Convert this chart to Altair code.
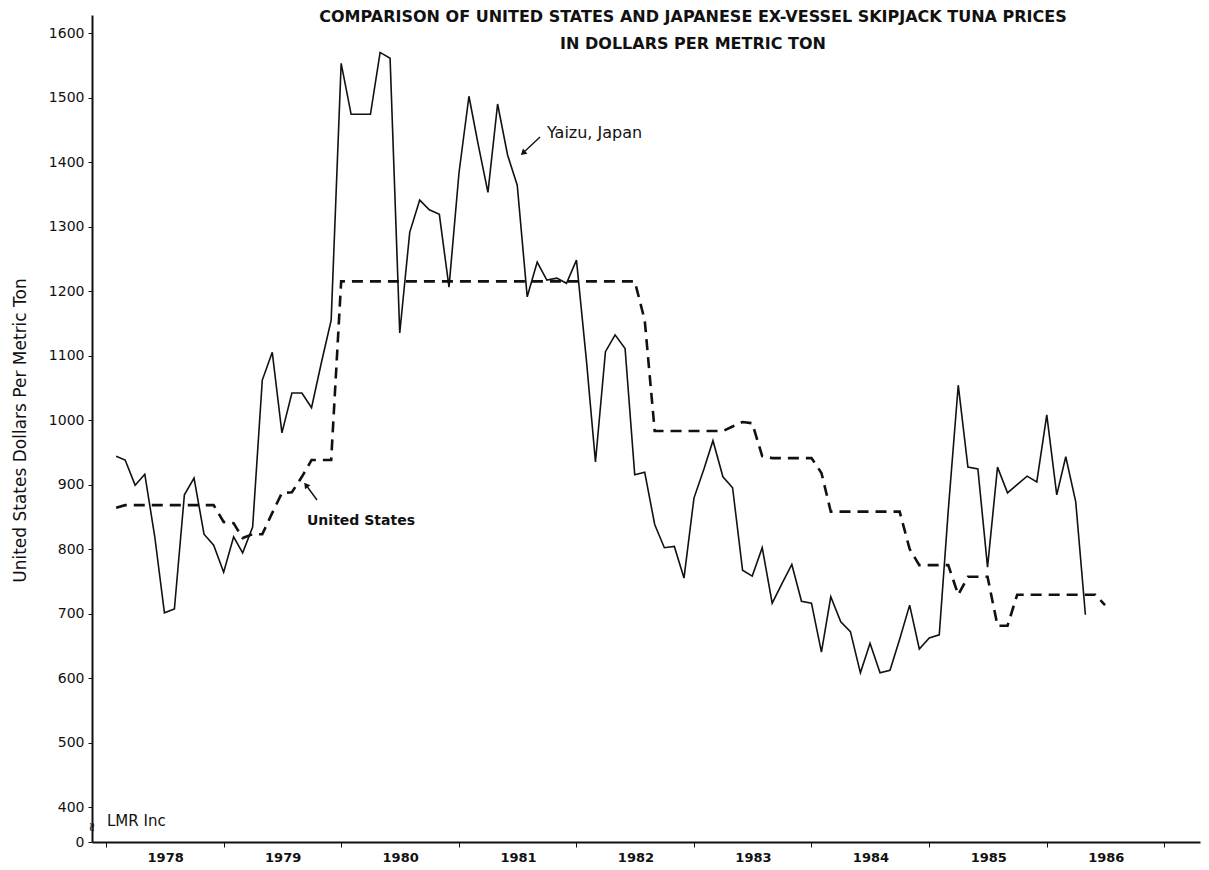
import altair as alt
import pandas as pd

# ---- data ----
yaizu = [944, 938, 899, 916, 819, 701, 707, 884, 910, 823, 806, 764, 819, 794, 834,
         1062, 1105, 980, 1042, 1042, 1019, 1090, 1155,
         1553, 1474, 1474, 1474, 1570, 1561,
         1135, 1291, 1341, 1326, 1319, 1206, 1383, 1502, 1429, 1353, 1490, 1411, 1364,
         1191, 1245, 1217, 1220, 1212, 1248,
         1092, 935, 1106, 1132, 1111, 915, 919, 838, 802, 804, 755, 879,
         924, 968, 912, 895, 767, 758, 802, 716, 746, 776, 719, 716,
         640, 726, 687, 672, 608, 654, 608, 612, 660, 713, 645, 662, 667, 860,
         1054, 927, 924, 772, 927, 887, 900, 913, 904, 1008, 884, 943, 873, 698]

us = [864] + [868] * 10 + [842, 840, 817, 823, 823, 856, 887, 888, 912, 938, 938, 938] \
     + [1215] * 31 + [1155] + [983] * 8 + [990, 997, 995, 944] + [941] * 5 + [918] \
     + [858] * 8 + [800] + [775] * 4 + [729, 757, 757, 757, 681, 681] + [729] * 9 + [713]

months = pd.date_range("1978-02-01", periods=len(us), freq="MS")
year_ticks = list(range(1978, 1988))
y_ticks = [0, 400, 500, 600, 700, 800, 900, 1000, 1100, 1200, 1300, 1400, 1500, 1600]

title_lines = ["COMPARISON OF UNITED STATES AND JAPANESE EX-VESSEL SKIPJACK TUNA PRICES",
               "IN DOLLARS PER METRIC TON"]

df_y = pd.DataFrame({"date": months[:len(yaizu)], "price": yaizu})
df_u = pd.DataFrame({"date": months, "price": us})

W, H = 1108, 827
INK = "#111111"
FONT = "DejaVu Sans"

x_scale = alt.Scale(domain=[alt.DateTime(year=1977, month=11, date=18),
                            alt.DateTime(year=1987, month=4, date=22)])
y_scale = alt.Scale(domain=[0, 400, 1628], range=[H, H - 35, 0], nice=False, zero=False)

x_axis = alt.Axis(values=[alt.DateTime(year=y, month=1, date=1) for y in year_ticks],
                  labelExpr="year(datum.value) < 1987 ? timeFormat(datum.value, '%Y') : ''",
                  labelOffset=59, labelFlush=False, labelOverlap=False,
                  labelFontSize=13, labelFontWeight="bold", labelFont=FONT, labelColor=INK,
                  labelPadding=4, tickSize=5, tickColor=INK, domainColor=INK, domainWidth=2,
                  grid=False, title=None)
y_axis = alt.Axis(values=y_ticks, format="d", labelFontSize=14, labelFont=FONT,
                  labelColor=INK, labelOverlap=False, labelFlush=False, labelPadding=4,
                  tickSize=4, tickColor=INK, domainColor=INK, domainWidth=2, grid=False,
                  title="United States Dollars Per Metric Ton", titleFont=FONT,
                  titleFontSize=17, titleFontWeight="normal", titleColor=INK,
                  titleX=-72, titleY=415, titleAlign="center", titleBaseline="middle",
                  titleAngle=270)

line_japan = alt.Chart(df_y).mark_line(color=INK, strokeWidth=1.6).encode(
    x=alt.X("date:T", scale=x_scale, axis=x_axis),
    y=alt.Y("price:Q", scale=y_scale, axis=y_axis))
line_us = alt.Chart(df_u).mark_line(color=INK, strokeWidth=2.6, strokeDash=[11, 7]).encode(
    x=alt.X("date:T", scale=x_scale), y=alt.Y("price:Q", scale=y_scale))

one = pd.DataFrame({"k": [0]})

def label(text, x, y, size=12, weight="normal", align="left"):
    return alt.Chart(one).mark_text(text=text, font=FONT, fontSize=size, fontWeight=weight,
                                    color=INK, align=align, baseline="middle").encode(
        x=alt.value(x), y=alt.value(y))

def arrow(x1, y1, x2, y2, ang):
    shaft = alt.Chart(one).mark_rule(color=INK, strokeWidth=1.4).encode(
        x=alt.value(x1), y=alt.value(y1), x2=alt.value(x2), y2=alt.value(y2))
    head = alt.Chart(one).mark_point(shape="triangle-up", filled=True, size=45, angle=ang,
                                     color=INK, opacity=1).encode(
        x=alt.value(x2), y=alt.value(y2))
    return shaft + head

annotations = (
    label(title_lines[0], 601, 2, size=16, weight="bold", align="center")
    + label(title_lines[1], 601, 29, size=16, weight="bold", align="center")
    + label("Yaizu, Japan", 455, 118, size=16)
    + arrow(448, 122, 431, 138, 229)
    + label("United States", 215, 506, size=14, weight="bold")
    + arrow(225, 485, 214, 470, 323)
    + label("LMR Inc", 15, 806, size=15)
    + label("≈", 0, 812, size=13, align="center").encode(angle=alt.value(90))
)

chart = alt.layer(line_japan, line_us, annotations).properties(
    width=W, height=H,
    autosize=alt.AutoSizeParams(type="none"),
    padding={"left": 84, "top": 7, "right": 1, "bottom": 22},
    background="white",
).configure_view(stroke=None)

chart.save("out.html", embed_options={"renderer": "svg", "actions": False})
